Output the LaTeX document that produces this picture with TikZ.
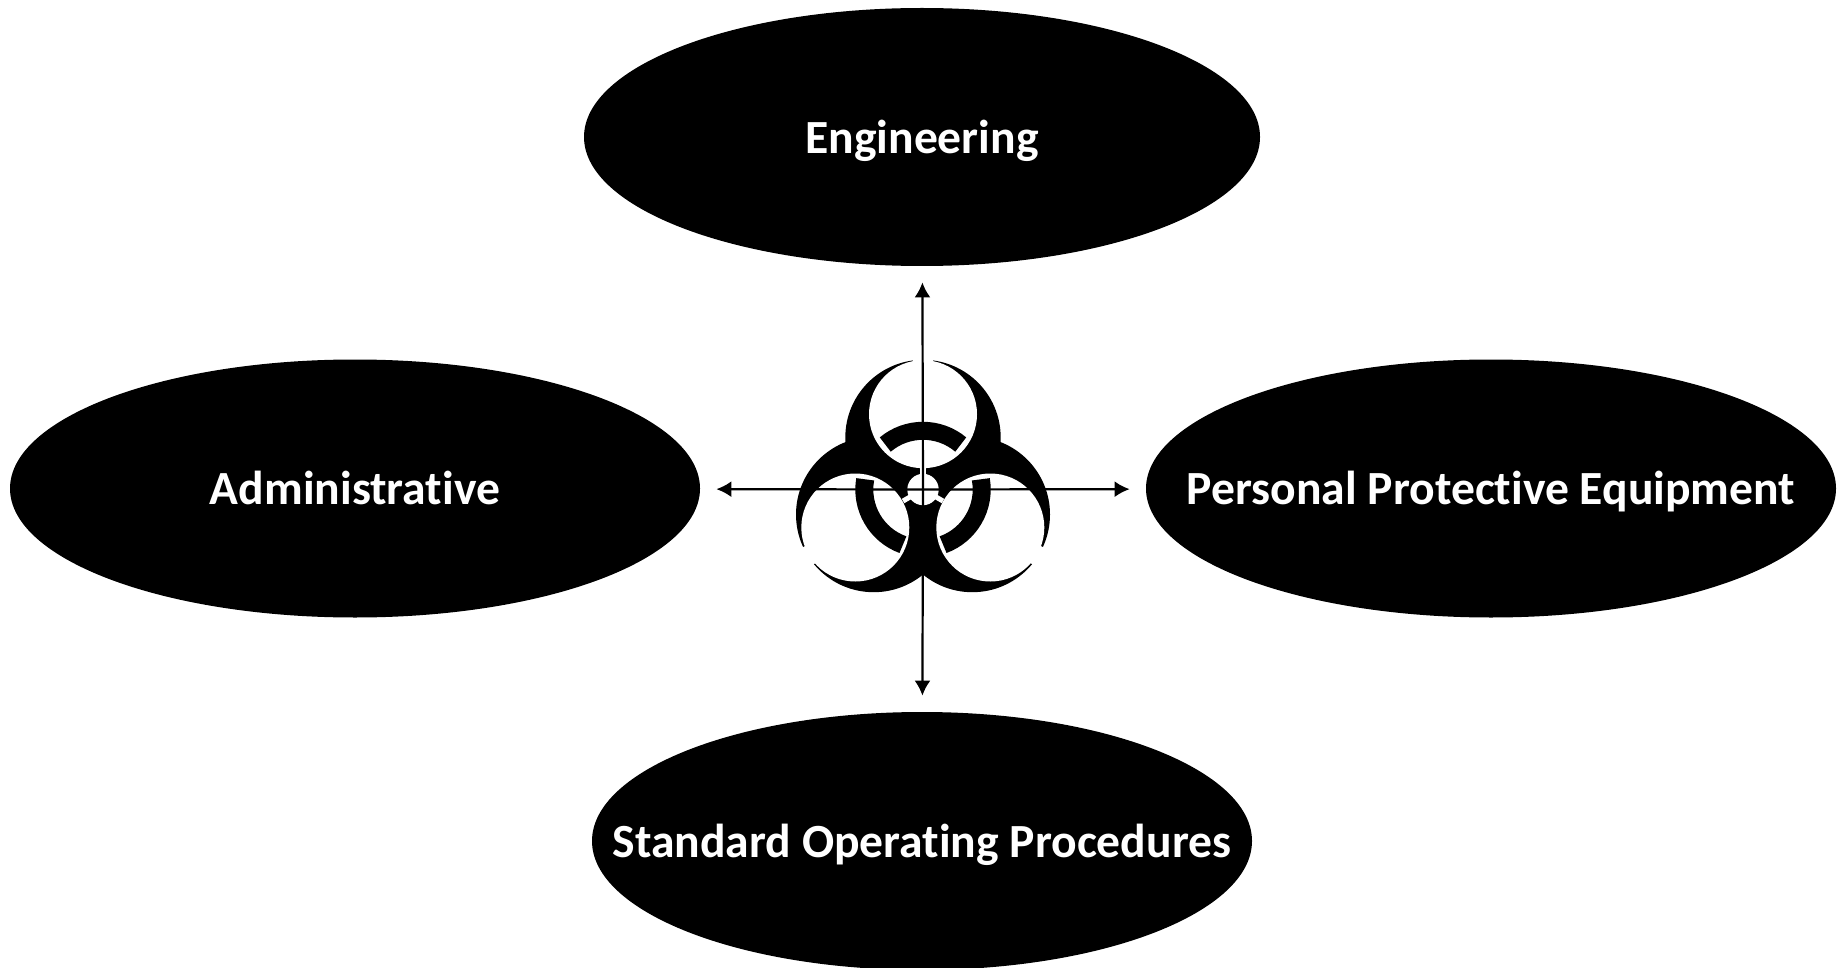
\documentclass[tikz,border=0pt]{standalone}
\usepackage{fontspec}
\setmainfont{Carlito}[Ligatures=NoCommon]
\usetikzlibrary{arrows.meta, shapes.geometric}

\tikzset{
  control/.style={ellipse,fill=black,inner sep=0,minimum height=129pt},
  caption/.style={text=white,inner sep=0,text height=16.4pt,text depth=0pt,font=\fontsize{23.8}{28}\bfseries},
  link/.style={->,line width=1.1pt,shorten >=8pt},
}

\begin{document}
\begin{tikzpicture}[x=0.5pt,y=-0.5pt]
    \tikzset{>={Latex[length=7.5pt,width=8pt]}}
    \def\inner{27pt}
    \def\outer{38.85pt}
    \useasboundingbox (0,0) rectangle (1841,968);

    \node[control,minimum width=338pt,label={[caption]center:Engineering}] (engineering) at (922,137) {};
    \node[control,minimum width=345pt,label={[caption]center:Administrative}] (administrative) at (355,488.5) {};
    \node[control,minimum width=345pt,label={[caption]center:Personal Protective Equipment}] (ppe) at (1491,488.5) {};
    \node[control,minimum width=330pt,label={[caption]center:Standard Operating Procedures}] (sop) at (922,841) {};
    \coordinate (hub) at (923,489.5);

    \begin{scope}[shift={(hub)},y=0.5pt]
      % crescents
      \fill (0,52) circle (\outer);
      \fill (-49.3,-25) circle (\outer);
      \fill (49.3,-25) circle (\outer);
      \fill[white] (0,75.3) circle (\inner);
      \fill[white] (-67.7,-38) circle (\inner);
      \fill[white] (67.3,-38) circle (\inner);
      % broken ring
      \draw[line width=9pt] (50:29.35pt) arc (50:130:29.35pt);
      \draw[line width=9pt] (170:29.35pt) arc (170:250:29.35pt);
      \draw[line width=9pt] (290:29.35pt) arc (290:370:29.35pt);
      % middle and gaps
      \fill[white] (0,0) circle (7.85pt);
      \draw[white,line width=3pt] (0,0) -- (90:11pt);
      \draw[white,line width=2.5pt] (0,0) -- (210:11.5pt);
      \draw[white,line width=2.5pt] (0,0) -- (330:11.5pt);
      % notches
      \draw[white,line width=10pt] (90:61.5pt) -- (90:67pt);
      \draw[white,line width=10pt] (210:63pt) -- (210:70pt);
      \draw[white,line width=10pt] (330:63pt) -- (330:70pt);
    \end{scope}

    \draw[link] (hub) -- (engineering);
    \draw[link] (hub) -- (administrative);
    \draw[link] (hub) -- (ppe);
    \draw[link] (hub) -- (sop);
\end{tikzpicture}
\end{document}
